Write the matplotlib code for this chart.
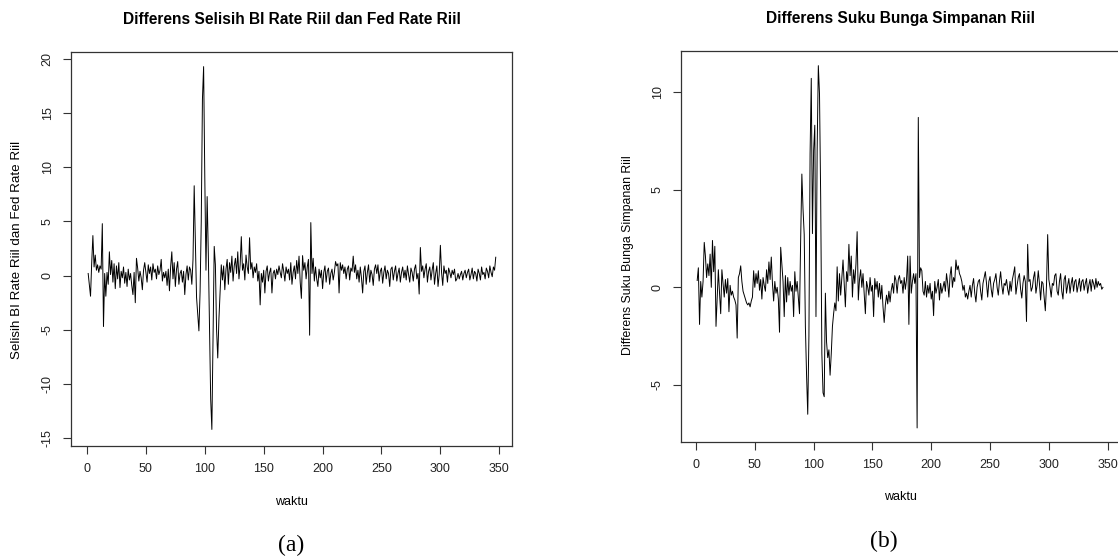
import matplotlib
matplotlib.use("Agg")
import matplotlib.pyplot as plt
import numpy as np

# ---------------- data ----------------
title_a = "Differens Selisih BI Rate Riil dan Fed Rate Riil"
title_b = "Differens Suku Bunga Simpanan Riil"
ylabel_a = "Selisih BI Rate Riil dan Fed Rate Riil"
ylabel_b = "Differens Suku Bunga Simpanan Riil"
xlabel = "waktu"
xticks = [0, 50, 100, 150, 200, 250, 300, 350]
yticks_a = [-15, -10, -5, 0, 5, 10, 15, 20]
yticks_b = [-5, 0, 5, 10]

series_a = [
    0.2, -0.9, -1.9, 1.2, 3.7, 0.8, 1.9, 0.5, 1.0, 0.3,
    0.9, 0.6, 4.8, -4.7, 0.2, -1.9, 0.3, -0.8, 2.2, 0.1,
    1.4, -0.6, 1.1, -1.2, 0.9, -0.3, 1.2, -1.1, 0.4, -0.2,
    0.8, -0.7, 0.3, -1.0, 0.6, -0.4, 0.2, -0.9, -1.75, 0.3,
    -2.5, 1.6, 0.7, -0.5, 0.4, -0.2, -1.3, 0.5, 1.2, 0.3,
    -0.6, 1.0, 0.2, 0.8, -0.4, 1.1, 0.3, 0.6, -0.3, 0.9,
    0.1, 0.5, 1.5, -0.5, 0.3, -0.2, 0.4, -0.9, 0.6, -1.4,
    0.8, 2.2, -0.3, 1.2, -1.0, 0.6, 1.3, -0.8, 0.2, 0.5,
    -0.6, 0.4, -1.75, 0.1, 0.9, -0.4, 0.8, 0.5, -0.8, 1.5,
    8.3, 3.0, -2.0, -3.6, -5.1, -1.5, 5.0, 16.3, 19.3, 9.1,
    0.5, 7.3, 2.0, -5.0, -11.4, -14.2, -6.0, 2.7, 1.0, -5.0,
    -7.6, -4.0, -1.5, 1.0, -0.4, 0.9, -1.3, 0.6, 1.5, -0.8,
    1.2, 0.3, 1.8, -0.5, 0.9, 1.6, 0.2, 2.2, -0.3, 1.0,
    3.6, 0.5, 1.1, -0.4, 1.9, 0.8, 0.2, 3.5, 0.6, 1.2,
    -0.2, 0.8, 0.3, 1.1, -0.5, 0.4, -2.7, 0.2, -0.6, 0.5,
    -1.6, 0.4, 0.9, -0.5, 0.3, 0.7, -1.6, 0.2, 0.5, -0.3,
    0.6, 0.1, 0.9, 0.3, -0.2, 1.1, 0.4, -0.5, 0.8, 0.2,
    0.6, -0.4, 1.2, -0.8, 0.3, 0.9, -0.3, 1.4, 0.2, 1.8,
    -0.6, -2.1, 1.85, 0.5, 1.2, -0.3, 0.8, 1.5, -5.5, 4.9,
    0.2, 1.6, -0.5, 0.8, -0.3, -1.0, 0.6, -0.2, 0.5, -1.2,
    0.3, 0.9, -0.6, 0.4, 0.7, -0.8, 0.2, 0.6, -0.4, 0.3,
    1.3, 0.9, 1.1, -1.6, 1.2, 0.5, 1.0, 0.2, 0.8, -0.3,
    0.6, 0.9, -0.4, 0.7, 0.4, 1.8, 0.3, 1.0, -0.3, 0.5,
    -0.6, 0.8, -0.2, -1.6, 0.4, 0.9, -0.8, 0.3, 1.0, -0.6,
    0.5, 0.1, -0.9, 0.6, 1.0, 0.2, 1.0, -0.5, 0.4, 0.7,
    -0.7, 0.3, 0.9, -0.3, 0.5, 0.2, -1.0, 0.6, 0.8, -0.4,
    0.4, 0.9, -0.5, 0.2, 0.7, -0.6, 0.3, 0.8, -0.2, 0.5,
    -0.4, 0.9, 0.1, -0.6, 0.7, 0.3, -0.5, 0.6, 1.0, -0.3,
    0.2, -1.7, 2.6, 0.4, 0.9, -0.2, 0.6, 1.1, -0.6, 0.4,
    0.8, -0.4, 0.5, 1.2, -0.8, 0.2, 0.9, -1.0, 0.1, 2.8,
    0.3, -0.9, 0.9, 0.2, 0.5, -0.6, 0.7, 0.3, -0.2, 0.5,
    0.1, 0.6, -0.5, -0.3, 0.2, -0.3, 0.1, 0.4, -0.4, 0.2,
    0.5, -0.2, 0.3, 0.6, -0.4, 0.1, 0.7, -0.3, 0.4, 0.2,
    -0.5, 0.6, 0.2, -0.4, 0.8, 0.1, 0.3, -0.3, 0.7, 0.4,
    -0.2, 0.9, 0.3, -0.1, 0.8, 0.5, 1.7,
]

series_b = [
    0.35, 1.0, -1.9, 0.3, -0.5, 0.3, 2.3, 1.6, 0.5, 1.2,
    0.6, 1.7, 0.0, 2.4, 0.8, 2.1, -2.0, -0.5, 0.9, -0.3,
    -1.35, 0.9, 0.2, -0.5, 0.4, -0.3, 0.45, -1.25, 0.1, -0.4,
    -0.2, -0.5, -0.65, -0.9, -2.6, 0.5, 0.7, 1.1, 0.3, -0.2,
    -0.4, -0.6, -0.8, -0.9, -0.8, -1.0, -0.7, -0.5, 0.85, 0.0,
    0.7, 0.2, 0.85, -0.15, 0.4, -0.6, 0.5, 0.1, -0.2, 0.9,
    0.2, 1.3, 0.4, 1.55, 0.2, -0.7, 0.3, -0.3, 0.0, -0.6,
    -2.3, 2.05, 1.2, 0.3, -1.5, 0.6, -0.75, 0.5, -0.4, 0.3,
    -0.2, 0.1, -1.5, 0.8, -0.2, 0.3, -0.5, -1.35, 2.5, 5.8,
    4.0, 2.7, -2.0, -4.5, -6.5, -2.5, 6.85, 10.7, 2.75, 7.0,
    8.3, -1.5, 7.0, 11.35, 9.9, 4.6, -3.4, -5.4, -5.6, -0.3,
    -2.8, -3.6, -3.2, -4.5, -3.4, -2.0, -1.35, -0.8, -1.2, 1.05,
    -0.7, 0.7, -0.4, 0.5, 1.4, 0.2, -1.0, 0.8, 0.3, 2.2,
    0.6, 1.6, -0.5, 0.9, 0.2, 1.2, 2.85, -0.65, 0.4, 0.9,
    0.0, 0.7, -0.3, -1.35, 0.3, 0.0, -0.4, 0.5, -0.2, 0.1,
    -1.5, 0.45, -0.1, 0.3, -0.5, 0.2, -0.6, 0.1, -1.0, -1.8,
    -0.9, -0.4, -0.85, -0.2, -0.75, -0.15, 0.2, -0.3, 0.6, 0.35,
    -0.3, 0.4, 0.6, 0.2, 0.35, -0.3, 0.5, -0.1, 0.4, 1.6,
    -1.9, 1.6, -0.3, 0.3, 0.7, 0.2, 0.7, -7.2, 8.7, 0.5,
    1.0, 0.85, -0.2, -0.4, 0.3, -0.5, 0.1, -0.3, 0.2, -0.6,
    -0.2, -1.45, 0.3, -0.3, 0.0, 0.4, -0.65, 0.2, -0.3, 0.0,
    0.3, -0.2, 0.7, 0.2, -0.5, 0.6, 1.05, 0.0, 0.5, 0.3,
    1.4, 0.9, 1.1, 0.7, 0.55, 0.3, -0.15, 0.1, -0.5, -0.3,
    -0.6, -0.2, 0.1, -0.5, 0.1, 0.45, -0.3, -0.75, 0.0, 0.3,
    0.4, -0.2, -0.65, 0.2, 0.5, 0.8, 0.2, -0.5, 0.3, 0.55,
    -0.1, -0.5, 0.2, 0.4, 0.7, 0.0, -0.4, 0.3, 0.8, 0.1,
    -0.35, 0.2, 0.1, 0.4, -0.1, -0.4, 0.3, -0.2, 0.4, 0.7,
    1.05, -0.35, 0.1, 0.5, 0.7, -0.1, -0.55, 0.2, 0.6, 0.3,
    -1.75, 2.2, 0.3, 0.4, -0.2, 0.0, 0.5, 0.8, -0.3, 0.1,
    0.85, 0.2, -0.65, 0.3, 0.2, -0.5, -1.2, 0.1, 2.7, 0.4,
    0.0, -0.5, 0.2, 0.1, 0.6, 0.7, -0.2, -0.4, 0.3, 0.7,
    -0.2, -0.6, 0.4, 0.6, -0.3, 0.1, 0.45, -0.3, 0.2, 0.5,
    -0.2, 0.3, 0.4, -0.25, 0.1, 0.45, -0.2, 0.3, 0.4, -0.15,
    0.2, 0.45, -0.3, 0.1, 0.4, -0.2, 0.4, 0.2, -0.1, 0.45,
    0.0, 0.3, 0.1, 0.2, -0.1, 0.0,
]

# ---------------- figure ----------------
W, H = 1118, 558
fig = plt.figure(figsize=(W / 100, H / 100), dpi=100)
FONT = "Liberation Sans"


def px_rect(l, t, r, b):
    return [l / W, 1 - b / H, (r - l) / W, (b - t) / H]


def fx(x):
    return x / W


def fy(y):
    return 1 - y / H


panels = [
    dict(rect=px_rect(71, 52, 512, 446), data=series_a, xlim=(-13.58, 360.8),
         ylim=(-15.73, 20.65), yticks=yticks_a, title=title_a, ylabel=ylabel_a,
         cx=291.5, ylab_x=17.5, ylab_y=250, ylab_fs=9.6, xl_y=502,
         cap="(a)", cap_x=291.5, cap_y=545),
    dict(rect=px_rect(681, 51, 1120, 442), data=series_b, xlim=(-12.76, 360.5),
         ylim=(-7.92, 12.1), yticks=yticks_b, title=title_b, ylabel=ylabel_b,
         cx=900.5, ylab_x=627.5, ylab_y=255, ylab_fs=8.8, xl_y=497,
         cap="(b)", cap_x=884, cap_y=541),
]

for p in panels:
    ax = fig.add_axes(p["rect"])
    y = np.asarray(p["data"], dtype=float)
    t = np.arange(1, len(y) + 1)
    ax.plot(t, y, color="black", lw=0.7)
    ax.set_xlim(*p["xlim"])
    ax.set_ylim(*p["ylim"])
    ax.set_xticks(xticks)
    ax.set_yticks(p["yticks"])
    ax.set_xticklabels([str(v) for v in xticks], fontfamily=FONT, fontsize=9, color="#222222")
    ax.set_yticklabels([str(v) for v in p["yticks"]], fontfamily=FONT, fontsize=9,
                       rotation=90, va="center", color="#222222")
    ax.tick_params(direction="out", length=5.5, width=0.8, color="#333333", pad=7)
    for s in ax.spines.values():
        s.set_color("#333333")
        s.set_linewidth(0.9)
    fig.text(fx(p["cx"]), fy(19), p["title"], ha="center", va="center",
             fontfamily=FONT, fontweight="bold", fontsize=11.2)
    fig.text(fx(p["cx"]), fy(p["xl_y"]), xlabel, ha="center", va="center",
             fontfamily=FONT, fontsize=9)
    fig.text(fx(p["ylab_x"]), fy(p["ylab_y"]), p["ylabel"], ha="center", va="center",
             rotation=90, fontfamily=FONT, fontsize=p["ylab_fs"])
    fig.text(fx(p["cap_x"]), fy(p["cap_y"]), p["cap"],
             ha="center", va="center", fontfamily="Liberation Serif", fontsize=17)

fig.savefig("out.png", dpi=100)
